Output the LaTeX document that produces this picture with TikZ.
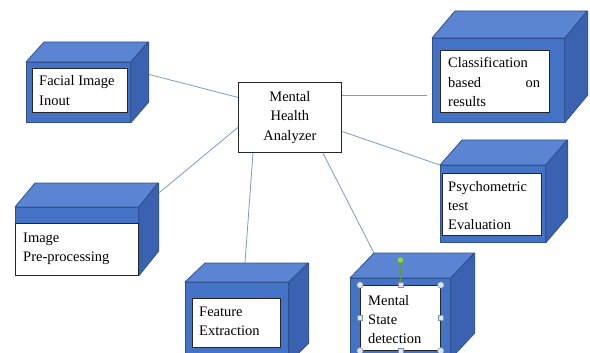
\documentclass[tikz,border=0pt]{standalone}
\usepackage{fontspec}
\setmainfont{Liberation Serif}
\usetikzlibrary{calc}

\definecolor{boxfront}{HTML}{4472C4}
\definecolor{boxtop}{HTML}{5B85D3}
\definecolor{boxside}{HTML}{3A62B0}
\definecolor{boxline}{HTML}{2F528F}
\definecolor{linkc}{HTML}{7E98C4}
\definecolor{handlefill}{HTML}{DCE7F4}
\definecolor{handleline}{HTML}{7F8FA6}
\definecolor{rotfill}{HTML}{92D050}
\definecolor{rotline}{HTML}{5E9E3A}

\tikzset{
  frontface/.style={draw=boxline, fill=boxfront, line width=0.8pt, inner sep=0pt, anchor=north west},
  topface/.style={draw=boxline, fill=boxtop, line width=0.8pt, line join=round},
  sideface/.style={draw=boxline, fill=boxside, line width=0.8pt, line join=round},
  panel/.style={draw=black!85, fill=white, line width=0.8pt, inner sep=0pt, anchor=north west},
  caption/.style={anchor=base west, inner sep=0pt, font=\fontsize{14.5}{19.5}\selectfont},
  hubbox/.style={draw=black!85, fill=white, line width=0.8pt, inner sep=0pt, anchor=north west,
    align=center, font=\fontsize{14.5}{19.5}\selectfont},
  link/.style={draw=linkc, line width=0.8pt},
  handle/.style={draw=handleline, fill=handlefill, line width=0.5pt}
}

% 3-D block: name, front top-left x, y, width, height, depth dx, depth dy
\newcommand{\blockbox}[7]{%
  \node[frontface, minimum width=#4pt, minimum height=#5pt] (#1) at (#2,#3) {};
  \draw[topface] (#1.north west) -- ++(#6,-#7) -- ++(#4,0) -- (#1.north east) -- cycle;
  \draw[sideface] (#1.north east) -- ++(#6,-#7) -- ++(0,#5) -- (#1.south east) -- cycle;
}
% white text panel: name, x, y, width, height
\newcommand{\textpanel}[5]{%
  \node[panel, minimum width=#4pt, minimum height=#5pt] (#1) at (#2,#3) {};
}

\begin{document}
\begin{tikzpicture}[x=1pt, y=-1pt]
\useasboundingbox (0,0) rectangle (590,353);
\clip (0,0) rectangle (590,353);

% central node
\node[hubbox, minimum width=103pt, minimum height=70pt] (hub) at (238,82) {Mental\\Health\\Analyzer};

% blocks
\blockbox{fac}{26}{62}{104}{60}{18}{20}
\textpanel{facw}{32}{68}{95}{44}
\node[caption] (fact) at ($(facw.north west)+(7,18)$) {\parbox[t]{90pt}{Facial Image\\Inout}};

\blockbox{cls}{432}{38}{132}{84}{23}{27}
\textpanel{clsw}{440}{50}{109}{62}
\node[caption] (clst) at ($(clsw.north west)+(8,18)$) {\parbox[t]{92pt}{Classification\\based\hfill on\\results}};

\blockbox{psy}{440}{165}{105}{77}{22}{25}
\textpanel{psyw}{442}{173}{99}{62}
\node[caption] (psyt) at ($(psyw.north west)+(6,18)$) {\parbox[t]{92pt}{Psychometric\\test\\Evaluation}};

\blockbox{pre}{15}{207}{123}{68}{20}{24}
\textpanel{prew}{15}{223}{123}{52}
\node[caption] (pret) at ($(prew.north west)+(8,19)$) {\parbox[t]{112pt}{Image\\Pre-processing}};

\blockbox{fea}{185}{282}{103}{80}{20}{19}
\textpanel{feaw}{192}{298}{88}{49}
\node[caption] (feat) at ($(feaw.north west)+(7,18)$) {\parbox[t]{80pt}{Feature\\Extraction}};

\blockbox{mst}{350}{278}{100}{80}{24}{25}
\textpanel{mstw}{360}{285}{80}{65}
\node[caption] (mstt) at ($(mstw.north west)+(8,20)$) {\parbox[t]{72pt}{Mental\\State\\detection}};

% selection handles on the detection panel
\draw[rotline, line width=0.6pt] (mstw.north) -- ++(0,-25);
\fill[rotfill, draw=rotline, line width=0.5pt] ($(mstw.north)+(0,-25)$) circle (3.2);
\foreach \a in {north west, north east, south west, south east}
  \draw[handle] (mstw.\a) circle (3.2);
\foreach \a in {north, south, west, east}
  \draw[handle] ($(mstw.\a)+(-2.6,-2.6)$) rectangle ++(5.2,5.2);

% connectors
\draw[link] ($(fac.east)+(18,-18)$) -- ($(hub.west)+(0,-20)$);
\draw[link] ($(pre.north east)+(20,-14)$) -- ($(hub.west)+(0,10)$);
\draw[link] ($(fea.north west)+(60,-19)$) -- ($(hub.south west)+(15,0)$);
\draw[link] ($(mst.north west)+(24,-25)$) -- ($(hub.south east)+(-19,0)$);
\draw[link] (psy.north west) -- ($(hub.east)+(0,14)$);
\draw[link] ($(hub.east)+(0,-22)$) -- ($(cls.west)+(-5,15)$);
\end{tikzpicture}
\end{document}
